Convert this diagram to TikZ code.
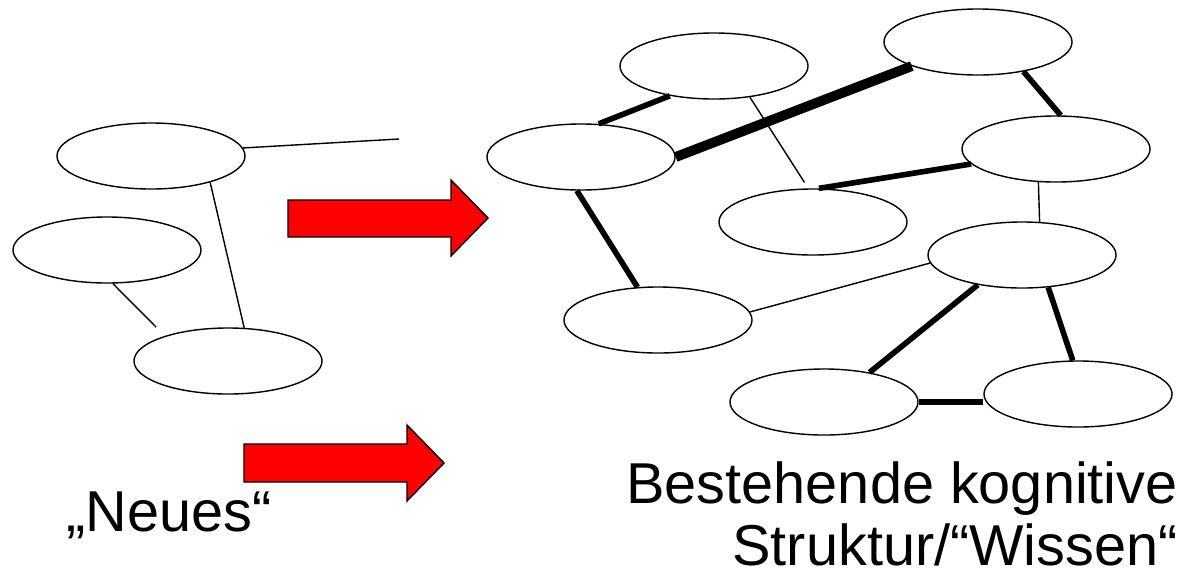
\documentclass[tikz,border=0pt]{standalone}
\usepackage{fontspec}
\setmainfont{Liberation Sans}
\usepackage{xcolor}
\usetikzlibrary{positioning,shapes}

\begin{document}
\begin{tikzpicture}[x=0.025cm,y=-0.025cm]
	\tikzstyle{node_style} = [ellipse,draw=black,line width=1pt,minimum width=4.7cm,minimum height=1.65cm,inner sep=0pt]
	\tikzstyle{edge_style} = [draw=black,line width=1pt]
	\tikzstyle{bold_edge} = [draw=black,line width=4pt]
	\tikzstyle{heavy_edge} = [draw=black,line width=7pt]
	\tikzstyle{arrow_style} = [draw=black,fill=red,line width=1pt]
	\tikzstyle{text_style} = [inner sep=0pt,font=\fontsize{41}{44}\selectfont]
	\useasboundingbox (0,0) rectangle (1188,575);
	% das Neue
	\node[node_style] (l1) at (151,156) {};
	\node[node_style] (l2) at (107,250) {};
	\node[node_style] (l3) at (228,361) {};
	\coordinate (f1) at (399,139);
	\coordinate (f2) at (156,327);
	\draw[edge_style] (l1.5) edge (f1);
	\draw[edge_style] (l1.-24) edge (l3.64);
	\draw[edge_style] (l2.-80) edge (f2);
	% bestehende Struktur
	\node[node_style] (r1) at (714,66) {};
	\node[node_style] (r2) at (978,42) {};
	\node[node_style] (r3) at (581,157) {};
	\node[node_style] (r4) at (1056,149) {};
	\node[node_style] (r5) at (813,222) {};
	\node[node_style] (r6) at (1022,255) {};
	\node[node_style] (r7) at (658,320) {};
	\node[node_style] (r8) at (824,402) {};
	\node[node_style] (r9) at (1078,394) {};
	\draw[bold_edge] (r3.62) edge (r1.214);
	\draw[heavy_edge] (r3.east) edge (r2.200);
	\draw[edge_style,shorten >=5pt] (r1.-41) edge (r5.98);
	\draw[bold_edge] (r2.-33) edge (r4.82);
	\draw[bold_edge] (r5.80) edge (r4.190);
	\draw[edge_style] (r4.242) edge (r6.62);
	\draw[bold_edge] (r3.263) edge (r7.122);
	\draw[edge_style] (r7.5) edge (r6.185);
	\draw[bold_edge] (r6.214) edge (r8.33);
	\draw[bold_edge] (r6.-51) edge (r9.99);
	\draw[bold_edge] (r8.east) edge (r8.east -| r9.west);
	% Pfeile
	\draw[arrow_style] (288,200) -- (451,200) -- (451,180) -- (488,218) -- (451,256) -- (451,237) -- (288,237) -- cycle;
	\draw[arrow_style] (244,444) -- (407,444) -- (407,425) -- (444,463) -- (407,501) -- (407,482) -- (244,482) -- cycle;
	% Texte
	\node[text_style,anchor=base west] (neues) at (66,531) {„Neues“};
	\node[text_style,anchor=base east,align=right] (wissen) at (1178,565) {Bestehende kognitive\\Struktur/“Wissen“};
\end{tikzpicture}
\end{document}
